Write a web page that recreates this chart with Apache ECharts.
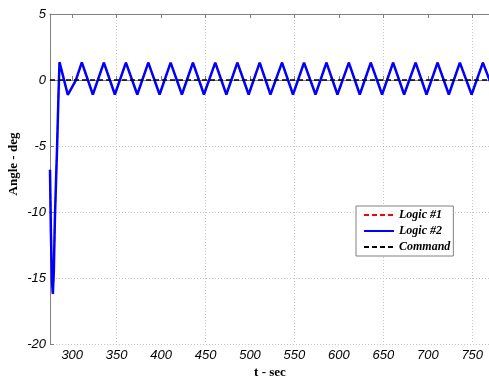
<!DOCTYPE html>
<html>
<head>
<meta charset="utf-8">
<script src="https://cdn.jsdelivr.net/npm/echarts@6/dist/echarts.min.js"></script>
<style>
  html, body { margin: 0; padding: 0; background: #fff; }
  #chart { width: 489px; height: 377px; }
</style>
</head>
<body>
<div id="chart"></div>
<script>
// time samples (sec) and angles (deg)
const timeData = [
  275, 276, 277.2, 278.2, 279.3, 280.5, 283, 284.6, 285.7,
  295, 303.9, 310.8, 323.2, 335.6, 348.0, 360.4, 373.2, 385.6, 398.3,
  410.7, 423.4, 435.8, 448.2, 460.9, 473.4, 485.8, 498.5, 510.9, 523.0,
  536.0, 548.4, 560.8, 573.7, 586.0, 598.4, 611.2, 623.5, 635.9, 648.6,
  661.0, 673.4, 686.3, 698.6, 711.0, 723.7, 736.1, 749.3, 762.0, 770
];
const logic2Data = [
  -6.8, -11.5, -15.3, -16.2, -14.5, -10.5, -5.0, -1.0, 1.35,
  -1.12, -0.05, 1.33, -1.1, 1.32, -1.1, 1.32, -1.1, 1.32, -1.1,
  1.32, -1.1, 1.32, -1.1, 1.32, -1.1, 1.32, -1.1, 1.32, -1.1,
  1.32, -1.1, 1.32, -1.1, 1.32, -1.1, 1.32, -1.1, 1.32, -1.1,
  1.32, -1.1, 1.32, -1.1, 1.32, -1.1, 1.32, -1.1, 1.32, -0.1
];
// Logic #1 lies right under Logic #2
const logic1Data = logic2Data.slice();
const commandTime = [275, 770];
const commandData = [0, 0];

const xTicks = [300, 350, 400, 450, 500, 550, 600, 650, 700, 750];
const seriesNames = ["Logic #1", "Logic #2", "Command"];

const pairs = (xs, ys) => xs.map((x, i) => [x, ys[i]]);

const chart = echarts.init(document.getElementById("chart"), null, { renderer: "canvas" });

const tickFont = { fontFamily: "Liberation Sans", fontStyle: "italic", fontSize: 13, color: "#000" };
const nameFont = { fontFamily: "Liberation Serif", fontWeight: "bold", fontSize: 13, color: "#000" };
const gridColor = "#c4c4c4";
const frame = { lineStyle: { color: "#808080", width: 1 } };

const option = {
  animation: false,
  backgroundColor: "#fff",
  grid: { left: 50, right: -1, top: 14, bottom: 33, outerBoundsMode: "none", containLabel: false },
  legend: {
    data: seriesNames,
    orient: "vertical",
    left: 356,
    top: 206,
    backgroundColor: "#fff",
    borderColor: "#808080",
    borderWidth: 1,
    padding: [3, 3, 3, 7],
    itemWidth: 30,
    itemHeight: 12,
    itemGap: 4,
    itemStyle: { opacity: 0, borderWidth: 0 },
    textStyle: { fontFamily: "Liberation Serif", fontStyle: "italic", fontWeight: "bold", fontSize: 12, color: "#000" }
  },
  xAxis: [
    {
      type: "value",
      min: 275,
      max: 770,
      interval: 25,
      name: "t - sec",
      nameLocation: "middle",
      nameGap: 22,
      nameMoveOverlap: false,
      nameTextStyle: nameFont,
      axisLine: frame,
      axisTick: { inside: true, length: 4, customValues: xTicks, lineStyle: { color: "#808080" } },
      axisLabel: Object.assign({ customValues: xTicks, margin: 5 }, tickFont),
      // grid lines only on every other 25-step (the 50s)
      splitLine: { show: true, lineStyle: { color: ["rgba(0,0,0,0)", gridColor], type: [1, 2], width: 1 } }
    },
    {
      type: "value",
      position: "top",
      min: 275,
      max: 770,
      interval: 25,
      axisLine: frame,
      axisTick: { inside: true, length: 4, customValues: xTicks, lineStyle: { color: "#808080" } },
      axisLabel: { show: false },
      splitLine: { show: false }
    }
  ],
  yAxis: {
    type: "value",
    min: -20,
    max: 5,
    interval: 5,
    name: "Angle - deg",
    nameLocation: "middle",
    nameGap: 30,
    nameMoveOverlap: false,
    nameTextStyle: Object.assign({ padding: [0, 0, 0, 30] }, nameFont),
    axisLine: frame,
    axisTick: { inside: true, length: 4, lineStyle: { color: "#808080" } },
    axisLabel: Object.assign({ margin: 4 }, tickFont),
    splitLine: { show: true, lineStyle: { color: gridColor, type: [1, 2], width: 1 } }
  },
  series: [
    {
      name: "Logic #1",
      type: "line",
      data: pairs(timeData, logic1Data),
      symbol: "none",
      lineStyle: { color: "#ff0000", width: 1.5, type: [5, 3] },
      itemStyle: { color: "#ff0000" }
    },
    {
      name: "Logic #2",
      type: "line",
      data: pairs(timeData, logic2Data),
      symbol: "none",
      lineStyle: { color: "#0000ff", width: 2.5 },
      itemStyle: { color: "#0000ff" }
    },
    {
      name: "Command",
      type: "line",
      data: pairs(commandTime, commandData),
      symbol: "none",
      lineStyle: { color: "#000", width: 1.5, type: [5, 3] },
      itemStyle: { color: "#000" }
    }
  ]
};

chart.setOption(option);
</script>
</body>
</html>
